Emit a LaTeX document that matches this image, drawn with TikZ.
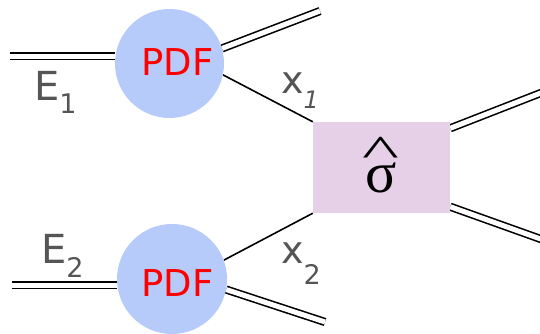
\documentclass[tikz,border=0pt]{standalone}
\usepackage{fontspec}
\setmainfont{DejaVu Sans}
\newfontfamily\serifgreek{Liberation Serif}
\usetikzlibrary{calc}
\definecolor{pdfblue}{RGB}{183,203,250}
\definecolor{boxpurple}{RGB}{230,208,232}
\definecolor{labgray}{RGB}{85,85,85}
\tikzset{
  pdfcirc/.style={circle, fill=pdfblue, minimum size=109pt, inner sep=0pt},
  pdftext/.style={text=red, font=\fontsize{37}{37}\selectfont, inner sep=0pt},
  dbl/.style={line width=1.6pt, double=white, double distance=5pt},
  sgl/.style={line width=1.6pt},
  lab/.style={text=labgray, inner sep=0pt, anchor=base west},
  sigbox/.style={fill=boxpurple, minimum width=137pt, minimum height=91pt, inner sep=0pt}
}
\begin{document}
\begin{tikzpicture}[x=1pt,y=-1pt]
\useasboundingbox (0,0) rectangle (540,333);
% coordinates of free ends
\coordinate (e1s) at (10,56);
\coordinate (e2s) at (12,285);
\coordinate (t1e) at (320,11);
\coordinate (b2e) at (325,322);
\coordinate (r1e) at (542,92.5);
\coordinate (r2e) at (542,239.5);
% nodes (invisible placement first for line drawing)
\node[sigbox] (box) at (381.5,167.5) {};
\path (169.5,63.5) node[circle, minimum size=109pt, inner sep=0pt] (pdf1) {};
\path (172,279) node[circle, minimum size=110pt, inner sep=0pt] (pdf2) {};
% connectors
\draw[dbl] (e1s) -- (e1s -| pdf1.172);
\draw[dbl] (e2s) -- (e2s -| pdf2.186);
\draw[dbl] (pdf1.16) -- (t1e);
\draw[dbl] (pdf2.-11) -- (b2e);
\draw[sgl] (pdf1.-12) -- (box.north west);
\draw[sgl] (pdf2.20) -- (box.south west);
\draw[dbl] ($(box.north east)+(0,6.5)$) -- (r1e);
\draw[dbl] ($(box.south east)+(0,-6.5)$) -- (r2e);
% fills on top
\node[pdfcirc] (c1) at (pdf1) {};
\node[pdfcirc, minimum size=110pt] (c2) at (pdf2) {};
\node[sigbox] (box2) at (box) {};
% texts
\node[pdftext] (p1) at (177.5,62.5) {PDF};
\node[pdftext] (p2) at (177.5,283.5) {PDF};
\node[lab, font=\fontsize{40}{40}\selectfont] (E1) at (34,100) {E\raisebox{-13pt}{\fontsize{27}{27}\selectfont 1}};
\node[lab, font=\fontsize{40}{40}\selectfont] (E2) at (41,263) {E\raisebox{-14pt}{\fontsize{27}{27}\selectfont 2}};
\node[lab, font=\fontsize{38}{38}\selectfont] (x1) at (281,93) {x\raisebox{-15pt}{\fontsize{24}{24}\selectfont\itshape 1}};
\node[lab, font=\fontsize{38}{38}\selectfont] (x2) at (281,263) {x\raisebox{-21pt}{\fontsize{27}{27}\selectfont 2}};
\node[inner sep=0pt, anchor=base, font=\fontsize{58}{58}\selectfont\serifgreek] (sig) at (381,192)
  {\ooalign{\hidewidth\raisebox{25.6pt}{\scalebox{1.35}[0.77]{\char"5E}}\hidewidth\cr σ\cr}};
\end{tikzpicture}
\end{document}
